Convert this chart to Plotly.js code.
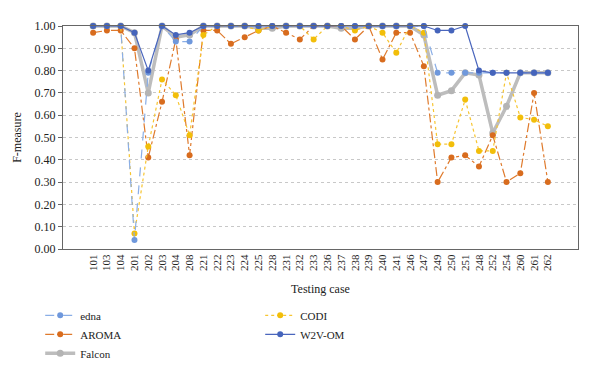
<!DOCTYPE html>
<html>
<head>
<meta charset="utf-8">
<script src="https://cdn.plot.ly/plotly-3.0.1.min.js"></script>
<style>html,body{margin:0;padding:0;background:#fff}#chart{width:600px;height:376px}</style>
</head>
<body>
<div id="chart"></div>
<script>
const cases = ["101","103","104","201","202","203","204","208","221","222","223","224","225","228","231","232","233","236","237","238","239","240","241","246","247","249","250","251","248","252","254","260","261","262"];
const edna   = [1.00,1.00,1.00,0.04,0.79,1.00,0.93,0.93,1.00,1.00,1.00,1.00,1.00,1.00,1.00,1.00,1.00,1.00,1.00,1.00,1.00,1.00,1.00,1.00,1.00,0.79,0.79,0.79,0.79,0.79,0.79,0.79,0.79,0.79];
const aroma  = [0.97,0.98,0.98,0.90,0.41,0.66,0.94,0.42,0.98,0.98,0.92,0.95,0.98,1.00,0.97,0.94,1.00,1.00,1.00,0.94,1.00,0.85,0.97,0.97,0.82,0.30,0.41,0.42,0.37,0.51,0.30,0.34,0.70,0.30];
const falcon = [1.00,1.00,1.00,0.97,0.70,1.00,0.95,0.96,1.00,1.00,1.00,1.00,0.99,0.99,1.00,1.00,1.00,1.00,0.99,0.99,1.00,1.00,1.00,1.00,0.96,0.69,0.71,0.79,0.78,0.52,0.64,0.79,0.79,0.79];
const codi   = [1.00,1.00,1.00,0.07,0.46,0.76,0.69,0.51,0.96,1.00,1.00,1.00,0.98,1.00,1.00,1.00,0.94,1.00,1.00,0.98,1.00,0.97,0.88,1.00,0.97,0.47,0.47,0.67,0.44,0.44,0.79,0.59,0.58,0.55];
const w2vom  = [1.00,1.00,1.00,0.97,0.80,1.00,0.96,0.97,1.00,1.00,1.00,1.00,1.00,1.00,1.00,1.00,1.00,1.00,1.00,1.00,1.00,1.00,1.00,1.00,1.00,0.98,0.98,1.00,0.80,0.79,0.79,0.79,0.79,0.79];

const ms = 6;
const traces = [
  {name:"Falcon", y:falcon, line:{color:"#bdbdbd", width:3.5, dash:"solid"}, marker:{color:"#b4b4b4", size:ms+1}, legendrank:5},
  {name:"AROMA", y:aroma, line:{color:"#df7a2c", width:1.2, dash:"dashdot"}, marker:{color:"#d86c1e", size:ms}, legendrank:3},
  {name:"CODI", y:codi, line:{color:"#f7c531", width:1.2, dash:"dot"}, marker:{color:"#f2be0a", size:ms}, legendrank:2},
  {name:"edna", y:edna, line:{color:"#8aaee6", width:1.2, dash:"dash"}, marker:{color:"#6f98dc", size:ms}, legendrank:1},
  {name:"W2V-OM", y:w2vom, line:{color:"#4a66bd", width:1.2, dash:"solid"}, marker:{color:"#4564bb", size:ms}, legendrank:4}
].map(t => Object.assign({x:cases, type:"scatter", mode:"lines+markers", cliponaxis:false}, t));

const ff = "Liberation Serif";
const layout = {
  width:600, height:376,
  margin:{l:63, r:22, t:26, b:127},
  paper_bgcolor:"#fff", plot_bgcolor:"#fff",
  font:{family:ff, color:"#222", size:11},
  showlegend:true,
  legend:{orientation:"h", xref:"container", yref:"container", x:0.067, xanchor:"left", y:0.2, yanchor:"top",
          entrywidth:175, itemwidth:30, tracegroupgap:0, font:{family:ff, size:11, color:"#222"},
          traceorder:"normal", bgcolor:"rgba(0,0,0,0)"},
  xaxis:{type:"category", categoryorder:"array", categoryarray:cases, tickangle:-90,
         showline:true, linecolor:"#666", linewidth:1, mirror:true, showgrid:false,
         ticks:"", tickfont:{family:ff, size:11}, zeroline:false,
         title:{text:"Testing case", font:{family:ff, size:12}, standoff:14}},
  yaxis:{range:[0,1], dtick:0.1, tickformat:".2f", showline:true, linecolor:"#666", linewidth:1, mirror:true,
         ticks:"outside", ticklen:4, tickcolor:"#666", showgrid:true, gridcolor:"#c8c8c8", griddash:"dot", gridwidth:1,
         zeroline:false, tickfont:{family:ff, size:12},
         title:{text:"F-measure", font:{family:ff, size:12}, standoff:10}}
};
Plotly.newPlot("chart", traces, layout, {displayModeBar:false, staticPlot:true});
</script>
</body>
</html>
